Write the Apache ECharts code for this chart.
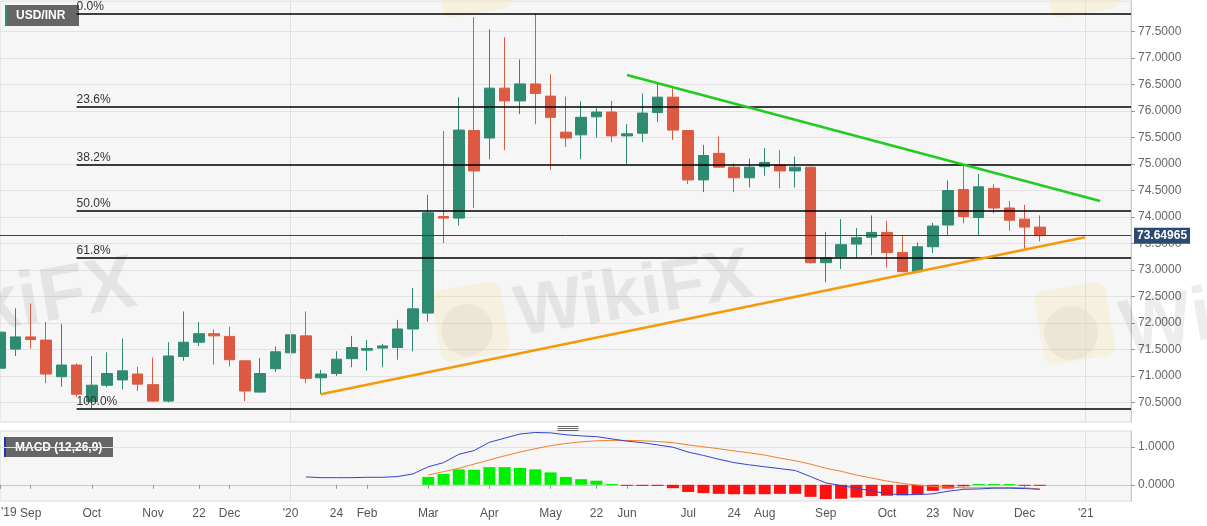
<!DOCTYPE html>
<html><head><meta charset="utf-8">
<script src="https://cdn.jsdelivr.net/npm/echarts@6/dist/echarts.min.js"></script>
<style>html,body{margin:0;padding:0;background:#fff}#c{width:1207px;height:526px}</style>
</head><body><div id="c"></div>
<script>
// Weekly USD/INR candles, index 0 = week of 2019-08-18
const tickIdx = [0,2,6,10,13,15,19,22,24,28,32,36,39,41,45,48,50,54,58,61,63,67,71];
const tickLabels = ["'19","Sep","Oct","Nov","22","Dec","'20","24","Feb","Mar","Apr","May","22","Jun","Jul","24","Aug","Sep","Oct","23","Nov","Dec","'21"];

const opens  = [71.15,71.51,71.74,71.68,70.99,71.21,70.52,70.83,70.93,71.04,70.84,70.53,71.37,71.64,71.80,71.75,71.29,70.70,71.14,71.44,71.76,70.97,71.05,71.33,71.49,71.53,71.54,71.89,72.19,74.01,73.98,75.63,75.49,76.43,76.19,76.51,76.28,75.60,75.55,75.89,75.98,75.53,75.58,75.97,76.26,75.63,74.70,75.20,74.94,74.74,74.95,74.98,74.87,74.94,73.14,73.25,73.49,73.62,73.71,73.33,72.97,73.44,73.85,74.52,73.99,74.54,74.17,73.96,73.81];
const closes = [71.83,71.74,71.69,71.04,71.21,70.66,70.83,71.05,71.10,70.85,70.53,71.38,71.64,71.80,71.76,71.31,70.72,71.05,71.46,71.78,70.96,71.04,71.32,71.54,71.52,71.57,71.89,72.27,74.08,73.98,75.64,74.87,76.43,76.19,76.51,76.33,75.88,75.49,75.88,75.98,75.53,75.57,75.96,76.26,75.64,74.70,75.16,74.94,74.74,74.94,75.03,74.87,74.94,73.14,73.23,73.48,73.61,73.71,73.33,72.97,73.44,73.83,74.50,74.01,74.57,74.17,73.94,73.81,73.65];
const lows   = [71.08,71.38,71.52,70.87,70.80,70.61,70.40,70.79,70.75,70.72,70.52,70.51,71.29,71.57,71.22,71.18,70.53,70.69,71.08,71.12,70.87,70.66,71.00,71.17,71.10,71.17,71.31,71.47,72.03,73.51,73.84,74.17,75.09,75.26,75.94,75.75,74.89,75.32,75.09,75.50,75.41,75.00,75.41,75.79,75.45,74.62,74.47,74.93,74.47,74.56,74.78,74.54,74.56,73.12,72.77,73.02,73.22,73.28,73.05,72.96,72.96,73.32,73.64,73.88,73.66,74.07,73.74,73.40,73.54];
const highs  = [72.34,72.28,72.37,72.02,71.98,71.24,71.38,71.45,71.71,71.18,71.35,71.64,72.22,72.02,71.88,71.93,71.29,71.34,71.56,72.07,72.22,71.12,71.47,71.76,71.68,71.61,72.06,72.66,74.42,75.62,76.26,77.77,77.54,77.39,76.97,77.83,76.69,76.27,76.18,76.05,76.19,75.75,76.33,76.51,76.43,75.63,75.36,75.52,75.01,75.10,75.30,75.26,75.14,74.95,73.72,73.96,73.79,74.03,73.93,73.64,73.52,73.89,74.69,75.00,74.81,74.62,74.30,74.23,74.03];

const macdStart = 20;
const macdLine = [0.21,0.19,0.19,0.19,0.20,0.20,0.22,0.29,0.48,0.59,0.81,0.91,1.13,1.24,1.35,1.39,1.38,1.33,1.30,1.28,1.22,1.16,1.12,1.06,1.00,0.87,0.78,0.68,0.59,0.53,0.48,0.43,0.38,0.22,0.05,-0.02,-0.09,-0.16,-0.24,-0.26,-0.26,-0.24,-0.17,-0.12,-0.11,-0.09,-0.09,-0.10,-0.12];
const signalStart = 28;
const signalLine = [0.26,0.35,0.44,0.55,0.66,0.77,0.87,0.96,1.04,1.10,1.14,1.17,1.18,1.18,1.17,1.15,1.12,1.06,1.01,0.96,0.90,0.85,0.79,0.71,0.64,0.55,0.44,0.36,0.26,0.18,0.10,0.04,-0.01,-0.04,-0.06,-0.08,-0.08,-0.07,-0.07,-0.08,-0.11];
const histogram = [0.21,0.29,0.41,0.40,0.47,0.47,0.45,0.41,0.33,0.21,0.15,0.11,0.02,-0.02,-0.03,-0.03,-0.09,-0.19,-0.22,-0.24,-0.25,-0.25,-0.25,-0.24,-0.24,-0.32,-0.38,-0.37,-0.34,-0.30,-0.29,-0.28,-0.25,-0.16,-0.10,-0.04,0.02,0.02,0.02,-0.01,-0.02];

const fibLevels = [0, 23.6, 38.2, 50, 61.8, 100];
const fibHigh = 77.833, fibLow = 70.395, fibStartIdx = 5;
const lastPrice = 73.64965;
const resistanceLine = [[41.0, 76.678], [71.94, 74.302]];
const supportLine = [[20.97, 70.66], [70.95, 73.618]];
const priceTicks = [70.5,71,71.5,72,72.5,73,73.5,74,74.5,75,75.5,76,76.5,77,77.5];
const macdTicks = [0, 1];

const X_MIN = -0.007, X_MAX = 73.96;
const candleData = opens.map((o, i) => [i, o, closes[i], lows[i], highs[i]]);
const macdData = macdLine.map((v, k) => [macdStart + k, v]);
const signalData = signalLine.map((v, k) => [signalStart + k, v]);
const histData = histogram.map((v, k) => [signalStart + k, v]);

const fibMarks = fibLevels.map(p => {
  const v = fibHigh - p / 100 * (fibHigh - fibLow);
  return [{coord: [fibStartIdx, v], label: {formatter: p.toFixed(1) + '%'}}, {coord: [X_MAX, v]}];
});

const FONT = 'Liberation Sans, Arial, sans-serif';
const chart = echarts.init(document.getElementById('c'), null, {renderer: 'canvas'});
const wm = 'rgba(0,0,0,0.07)';
const logoFill = 'rgba(248,214,120,0.18)';
const logoEagle = 'rgba(0,0,0,0.04)';
chart.setOption({
  animation: false,
  backgroundColor: '#ffffff',
  grid: [
    {left: 0, right: 76, top: 1, height: 421, outerBoundsMode: 'none', containLabel: false, show: true, backgroundColor: '#f6f6f6', borderColor: '#dcdcdc', borderWidth: 1},
    {left: 0, right: 76, top: 431, height: 70, outerBoundsMode: 'none', containLabel: false, show: true, backgroundColor: '#f6f6f6', borderColor: '#dcdcdc', borderWidth: 1}
  ],
  xAxis: [
    {type: 'value', gridIndex: 0, min: X_MIN, max: X_MAX, axisLine: {show: false}, axisTick: {show: false}, axisLabel: {show: false}, splitLine: {show: false}},
    {type: 'value', gridIndex: 1, min: X_MIN, max: X_MAX, axisLine: {show: true, lineStyle: {color: '#c8c8c8'}},
     axisTick: {show: true, customValues: tickIdx, length: 4, lineStyle: {color: '#999'}},
     axisLabel: {show: true, customValues: tickIdx.slice(1), color: '#555', fontSize: 12, fontFamily: FONT, margin: 7, hideOverlap: false,
       formatter: v => { const k = tickIdx.indexOf(Math.round(v)); return k >= 0 ? tickLabels[k] : ''; }},
     splitLine: {show: false}}
  ],
  yAxis: [
    {type: 'value', gridIndex: 0, position: 'right', min: 70.136, max: 78.073,
     axisLine: {show: true, onZero: false, lineStyle: {color: '#c8c8c8'}},
     axisTick: {show: true, customValues: priceTicks, length: 4, lineStyle: {color: '#999'}},
     axisLabel: {customValues: priceTicks, color: '#666', fontSize: 12, fontFamily: FONT, margin: 7, formatter: v => v.toFixed(4)},
     splitLine: {show: true, lineStyle: {color: '#e2e2e2', width: 1}}},
    {type: 'value', gridIndex: 1, position: 'right', min: -0.43, max: 1.43,
     axisLine: {show: true, onZero: false, lineStyle: {color: '#c8c8c8'}},
     axisTick: {show: true, customValues: macdTicks, length: 4, lineStyle: {color: '#999'}},
     axisLabel: {customValues: macdTicks, color: '#666', fontSize: 12, fontFamily: FONT, margin: 7, formatter: v => v.toFixed(4)},
     splitLine: {show: true, lineStyle: {color: '#e2e2e2', width: 1}}}
  ],
  graphic: [
    // faint watermarks
    {type: 'text', x: 142, y: 322, rotation: 0.17, z: 1, silent: true, style: {text: 'WikiFX', align: 'right', verticalAlign: 'bottom', font: 'bold 76px ' + FONT, fill: wm}},
    {type: 'rect', x: 430, y: 292, rotation: 0.17, z: 1, silent: true, shape: {x: 0, y: 0, width: 70, height: 72, r: 10}, style: {fill: logoFill}},
    {type: 'circle', x: 467, y: 330, z: 1, silent: true, shape: {r: 26}, style: {fill: logoEagle}},
    {type: 'text', x: 522, y: 352, rotation: 0.17, z: 1, silent: true, style: {text: 'WikiFX', align: 'left', verticalAlign: 'bottom', font: 'bold 72px ' + FONT, fill: wm}},
    {type: 'rect', x: 1033, y: 293, rotation: 0.17, z: 1, silent: true, shape: {x: 0, y: 0, width: 72, height: 74, r: 10}, style: {fill: logoFill}},
    {type: 'circle', x: 1071, y: 333, z: 1, silent: true, shape: {r: 27}, style: {fill: logoEagle}},
    {type: 'text', x: 1128, y: 370, rotation: 0.17, z: 1, silent: true, style: {text: 'WikiFX', align: 'left', verticalAlign: 'bottom', font: 'bold 76px ' + FONT, fill: wm}},
    {type: 'rect', x: 432, y: -52, rotation: 0.17, z: 1, silent: true, shape: {x: 0, y: 0, width: 70, height: 72, r: 10}, style: {fill: logoFill}},
    {type: 'rect', x: 1040, y: -52, rotation: 0.17, z: 1, silent: true, shape: {x: 0, y: 0, width: 70, height: 72, r: 10}, style: {fill: logoFill}},
    // first (edge) time label, kept inside the canvas as in the reference
    {type: 'text', x: 1, y: 513, z: 100, silent: true, style: {text: tickLabels[0], fill: '#555', font: '12px ' + FONT, align: 'left', verticalAlign: 'middle'}},
    // title box
    {type: 'group', left: 5, top: 5, z: 100, children: [
      {type: 'rect', shape: {x: 0, y: 0, width: 74, height: 21}, style: {fill: '#666666'}},
      {type: 'rect', shape: {x: 0, y: 0, width: 2, height: 21}, style: {fill: '#2e8b74'}},
      {type: 'text', x: 11, y: 11, style: {text: 'USD/INR', fill: '#fff', font: 'bold 12px ' + FONT, verticalAlign: 'middle'}}
    ]},
    // MACD box
    {type: 'group', left: 4, top: 437, z: 100, children: [
      {type: 'rect', shape: {x: 0, y: 0, width: 109, height: 20}, style: {fill: '#666666'}},
      {type: 'rect', shape: {x: 0, y: 0, width: 2, height: 20}, style: {fill: '#2233bb'}},
      {type: 'text', x: 11, y: 10.5, style: {text: 'MACD (12,26,9)', fill: '#fff', font: 'bold 12px ' + FONT, verticalAlign: 'middle'}}
    ]},
    // pane splitter handle
    {type: 'group', left: 555, top: 424, z: 100, children: [
      {type: 'line', shape: {x1: 0, y1: 0.5, x2: 21, y2: 0.5}, style: {stroke: '#666', lineWidth: 1}},
      {type: 'line', shape: {x1: 0, y1: 2.5, x2: 21, y2: 2.5}, style: {stroke: '#666', lineWidth: 1}},
      {type: 'line', shape: {x1: 0, y1: 4.5, x2: 21, y2: 4.5}, style: {stroke: '#666', lineWidth: 1}}
    ]}
  ],
  series: [
    {type: 'candlestick', xAxisIndex: 0, yAxisIndex: 0, data: candleData, barWidth: 11, z: 3,
     itemStyle: {color: '#2f8a72', color0: '#dc5a42', borderColor: '#2f8a72', borderColor0: '#dc5a42', borderWidth: 1},
     markLine: {silent: true, symbol: 'none', animation: false,
       label: {show: true, position: 'insideStartTop', color: '#333', fontSize: 12, fontFamily: FONT, distance: [0, 1]},
       lineStyle: {color: '#000', width: 1.5, type: 'solid'},
       data: [
         [{coord: [19, 78.073], lineStyle: {color: '#dedede', width: 1}, label: {show: false}}, {coord: [19, 70.136]}],
         [{coord: [71, 78.073], lineStyle: {color: '#dedede', width: 1}, label: {show: false}}, {coord: [71, 70.136]}],
         ...fibMarks,
         [{coord: [X_MIN, lastPrice], lineStyle: {color: '#2b4468', width: 1},
           label: {show: true, position: 'end', formatter: lastPrice.toFixed(5), backgroundColor: '#2b4a6f', color: '#fff', fontWeight: 'bold', fontSize: 12, padding: [2, 3, 2, 3], distance: 3}},
          {coord: [X_MAX, lastPrice]}]
       ]}},
    {type: 'line', xAxisIndex: 0, yAxisIndex: 0, data: resistanceLine, showSymbol: false, z: 5, silent: true,
     lineStyle: {color: '#1fcc1f', width: 2.5}},
    {type: 'line', xAxisIndex: 0, yAxisIndex: 0, data: supportLine, showSymbol: false, z: 5, silent: true,
     lineStyle: {color: '#f59a0a', width: 2.5}},
    {type: 'custom', xAxisIndex: 1, yAxisIndex: 1, data: histData, z: 3, clip: true,
     renderItem: (params, api) => {
       const x = api.value(0), v = api.value(1);
       const p0 = api.coord([x, 0]), p1 = api.coord([x, v]);
       return {type: 'rect', shape: {x: p0[0] - 6, y: Math.min(p0[1], p1[1]), width: 12, height: Math.max(1, Math.abs(p1[1] - p0[1]))},
               style: {fill: v >= 0 ? '#00ee00' : '#ff1010'}};
     },
     markLine: {silent: true, symbol: 'none', label: {show: false}, lineStyle: {color: '#dedede', width: 1, type: 'solid'},
       data: [[{coord: [19, 1.43]}, {coord: [19, -0.43]}], [{coord: [71, 1.43]}, {coord: [71, -0.43]}]]}},
    {type: 'line', xAxisIndex: 1, yAxisIndex: 1, data: signalData, showSymbol: false, z: 4, lineStyle: {color: '#f08030', width: 1}},
    {type: 'line', xAxisIndex: 1, yAxisIndex: 1, data: macdData, showSymbol: false, z: 4, lineStyle: {color: '#3344cc', width: 1}}
  ]
});
</script></body></html>
